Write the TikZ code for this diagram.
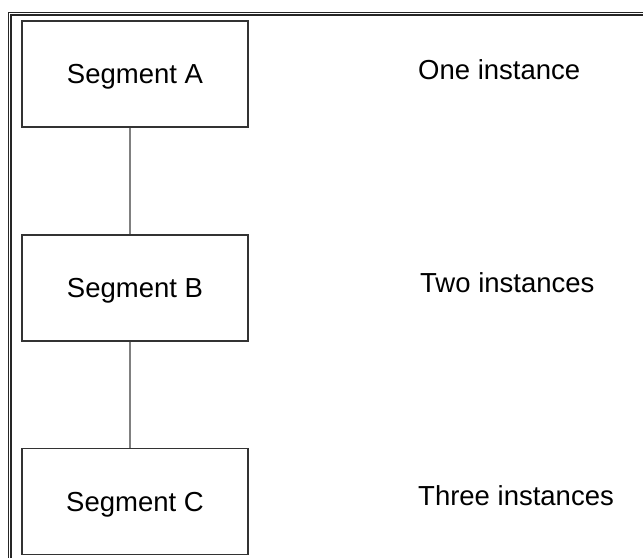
\documentclass[tikz,border=0pt]{standalone}
\usepackage{fontspec}
\setmainfont{Liberation Sans}
\usetikzlibrary{positioning}
\begin{document}
\begin{tikzpicture}[x=1pt,y=-1pt,node distance=213.75pt,
    font=\fontsize{27.5}{31}\selectfont,
    segment node/.style={draw=black!80,line width=1.6pt,minimum width=226pt,minimum height=106pt,inner sep=0pt,text depth=0pt},
    count node/.style={anchor=base west,inner sep=0pt},
    link/.style={draw=black!50,line width=1.5pt}]

    \useasboundingbox (0,0) rectangle (643,558);

    % frame
    \draw[black!85,line width=1.1pt] (8.5,558) -- (8.5,12.5) -- (643,12.5);
    \draw[black!85,line width=1.1pt] (11,558) -- (11,15) -- (643,15);

    \node[segment node] (0) at (135,74) {Segment A};
    \node[segment node] (1) [below of=0] {Segment B};
    \node[segment node] (2) [below of=1] {Segment C};

    \node[count node] (3) at (418,79) {One instance};
    \node[count node] (4) at (420,292) {Two instances};
    \node[count node] (5) at (418,505) {Three instances};

    \path[link] ([xshift=-5pt]0.south) -- ([xshift=-5pt]1.north);
    \path[link] ([xshift=-5pt]1.south) -- ([xshift=-5pt]2.north);
    \end{tikzpicture}
\end{document}
